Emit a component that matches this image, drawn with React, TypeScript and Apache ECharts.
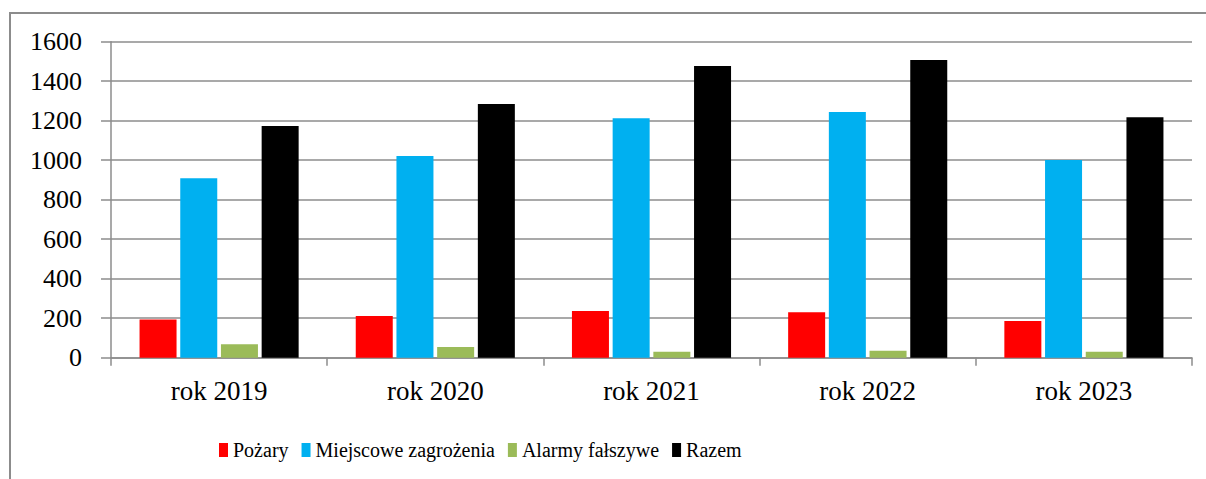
import React, { useEffect, useRef } from "react";
import * as echarts from "echarts";

const categories = ["rok 2019", "rok 2020", "rok 2021", "rok 2022", "rok 2023"];
const pozary = [194, 211, 236, 230, 186];
const miejscowe = [908, 1021, 1212, 1244, 1001];
const alarmy = [68, 54, 30, 35, 30];
const razem = [1173, 1284, 1477, 1507, 1217];
const seriesNames = ["Pożary", "Miejscowe zagrożenia", "Alarmy fałszywe", "Razem"];
const seriesColors = ["#ff0000", "#00b0f0", "#9bbb59", "#000000"];

const FONT = "serif";

export default function App() {
  const ref = useRef<HTMLDivElement>(null);
  useEffect(() => {
    if (!ref.current) return;
    const chart = echarts.init(ref.current, null, { renderer: "svg" });
    const values = [pozary, miejscowe, alarmy, razem];
    chart.setOption({
      animation: false,
      backgroundColor: "#ffffff",
      textStyle: { fontFamily: FONT },
      graphic: [
        {
          type: "rect",
          shape: { x: 10, y: 13, width: 1400, height: 700 },
          style: { fill: "none", stroke: "#8c8c8c", lineWidth: 2 },
          silent: true,
          z: -10,
        },
      ],
      grid: { left: 111, right: 14, top: 41.7, bottom: 121.3, containLabel: false },
      legend: {
        left: 214,
        top: 435,
        itemWidth: 9,
        itemHeight: 14,
        itemGap: 13,
        icon: "rect",
        data: seriesNames,
        textStyle: { fontFamily: FONT, fontSize: 20, color: "#000" },
      },
      xAxis: {
        type: "category",
        data: categories,
        axisLine: { show: true, lineStyle: { color: "#8c8c8c", width: 1.5 } },
        axisTick: { show: true, length: 8, inside: false, lineStyle: { color: "#8c8c8c", width: 1.5 } },
        axisLabel: { fontFamily: FONT, fontSize: 27, color: "#000", margin: 20 },
        splitLine: { show: false },
      },
      yAxis: {
        type: "value",
        min: 0,
        max: 1600,
        interval: 200,
        axisLine: { show: true, lineStyle: { color: "#8c8c8c", width: 1.5 } },
        axisTick: { show: true, length: 10, lineStyle: { color: "#8c8c8c", width: 1.5 } },
        axisLabel: {
          fontFamily: FONT,
          fontSize: 26,
          color: "#000",
          margin: 29,
          formatter: (v: number) => String(v),
        },
        splitLine: { show: true, lineStyle: { color: "#8c8c8c", width: 1.5 } },
      },
      series: seriesNames.map((name, i) => ({
        name,
        type: "bar",
        data: values[i],
        barWidth: 37,
        barGap: "10%",
        itemStyle: { color: seriesColors[i] },
      })),
    });
    return () => chart.dispose();
  }, []);
  return (
    <div
      ref={ref}
      style={{ position: "absolute", left: 0, top: 0, width: 1206, height: 479 }}
    />
  );
}
